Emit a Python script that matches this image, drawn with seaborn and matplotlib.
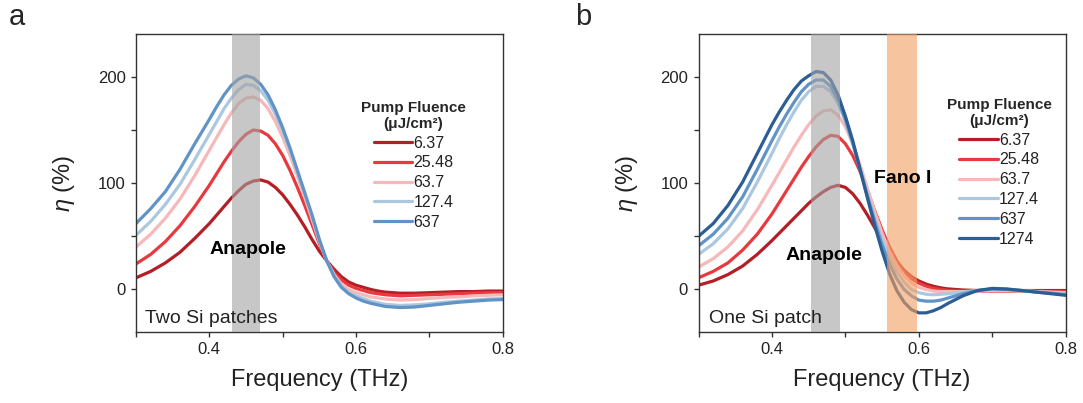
import seaborn as sns
import pandas as pd
import matplotlib
matplotlib.use('Agg')
import matplotlib.pyplot as plt
from matplotlib.ticker import MultipleLocator

sns.set_style('ticks')
plt.rcParams['font.family'] = ['Liberation Sans', 'DejaVu Sans']
plt.rcParams['mathtext.fontset'] = 'custom'
plt.rcParams['mathtext.it'] = 'Liberation Sans:italic'
plt.rcParams['mathtext.rm'] = 'Liberation Sans'

# frequency grid (THz)
freq = [0.30, 0.32, 0.34, 0.36, 0.38, 0.40, 0.41, 0.42, 0.43, 0.44, 0.45, 0.46,
        0.47, 0.48, 0.49, 0.50, 0.51, 0.52, 0.53, 0.54, 0.55, 0.56, 0.57, 0.58,
        0.59, 0.60, 0.61, 0.62, 0.63, 0.64, 0.66, 0.68, 0.70, 0.72, 0.74, 0.76,
        0.78, 0.80]

# panel a : two Si patches
fluence_a = ['6.37', '25.48', '63.7', '127.4', '637']
eta_a_637 = [11, 17, 25, 35, 48, 62, 70, 78, 86, 93, 99, 102,
             103, 101, 96, 89, 80, 70, 59, 47, 36, 27, 19, 12,
             7, 4, 2, 0, -1.5, -2.5, -3.5, -3.5, -3, -2.5, -2, -2,
             -1.5, -1.5]
eta_a_2548 = [24, 33, 45, 60, 78, 98, 109, 120, 130, 139, 146, 150,
              149, 145, 137, 126, 112, 96, 79, 61, 43, 27, 16, 9,
              4, 1, -1, -3, -4, -5, -6, -5.5, -5, -4.5, -4, -3.5,
              -3, -3]
eta_a_637b = [40, 52, 67, 85, 107, 131, 143, 155, 166, 175, 180, 181,
              178, 170, 158, 143, 126, 107, 87, 66, 45, 27, 14, 5,
              0, -3, -5, -7, -8, -9, -10, -9.5, -8.5, -7.5, -7, -6,
              -5.5, -5]
eta_a_1274 = [51, 64, 80, 99, 122, 146, 158, 170, 180, 188, 193, 192,
              187, 178, 165, 149, 131, 111, 90, 69, 46, 27, 13, 3,
              -3, -6, -8.5, -11, -12.5, -14, -15, -14.5, -13.5, -12, -11, -10,
              -9, -8.5]
eta_a_6370 = [62, 76, 92, 113, 137, 160, 172, 183, 192, 198, 201, 199,
              193, 183, 169, 152, 133, 112, 91, 70, 47, 27, 12, 2,
              -4, -8, -11, -13, -14.5, -16, -17, -16.5, -15, -13.5, -12, -11,
              -10, -9.5]
series_a = [eta_a_637, eta_a_2548, eta_a_637b, eta_a_1274, eta_a_6370]

# panel b : one Si patch
fluence_b = ['6.37', '25.48', '63.7', '127.4', '637', '1274']
eta_b_637 = [4, 8, 14, 22, 33, 46, 53, 60, 67, 74, 81, 87,
             92, 96, 98, 96, 90, 81, 70, 58, 46, 35, 26, 18,
             12, 8, 5, 3, 1.5, 0.5, -0.5, -1, -1, -1, -1, -1,
             -1, -1]
eta_b_2548 = [11, 17, 25, 37, 52, 71, 82, 93, 104, 115, 125, 134,
              141, 145, 144, 137, 126, 111, 93, 74, 56, 40, 27, 17,
              10, 6, 3, 1, 0, -1, -1.5, -1.5, -1.5, -1.5, -1.5, -1.5,
              -2, -2]
eta_b_637b = [21, 29, 40, 55, 75, 98, 110, 122, 134, 145, 155, 163,
              168, 169, 164, 153, 137, 117, 95, 73, 53, 36, 23, 13,
              6, 2, 0, -1.5, -2, -2, -2, -1.5, -1, -1, -1.5, -2,
              -2.5, -3]
eta_b_1274 = [33, 43, 57, 76, 101, 128, 142, 155, 167, 178, 186, 191,
              191, 186, 175, 158, 137, 114, 90, 67, 47, 30, 17, 7,
              0, -3, -4.5, -5, -4.5, -4, -2.5, -1, 0, 0, -1, -2,
              -3, -4]
eta_b_6370 = [41, 52, 67, 87, 113, 140, 153, 165, 176, 186, 193, 197,
              197, 191, 178, 160, 138, 113, 88, 64, 42, 24, 10, 0,
              -6, -10, -11, -11, -10, -8, -4, -1, 0.5, 0, -1, -2.5,
              -3.5, -5]
eta_b_12740 = [50, 62, 79, 101, 128, 155, 167, 178, 188, 196, 201, 205,
               204, 197, 183, 163, 140, 113, 86, 60, 36, 15, -1, -12,
               -19, -22, -22, -20, -17, -13, -6, -1, 1, 0.5, -1, -2.5,
               -4, -5.5]
series_b = [eta_b_637, eta_b_2548, eta_b_637b, eta_b_1274, eta_b_6370, eta_b_12740]

colors = ['#b41e25', '#e8393f', '#f6b8b9', '#acc8e0', '#6093c6', '#2d5d95']

anapole_a = (0.431, 0.469)
anapole_b = (0.453, 0.493)
fano_b = (0.557, 0.598)


def long_table(fluences, series):
    rows = []
    for fl, vals in zip(fluences, series):
        for f, v in zip(freq, vals):
            rows.append({'freq': f, 'eta': v, 'fluence': fl})
    return pd.DataFrame(rows)


def style_axes(ax):
    ax.set_xlim(0.3, 0.8)
    ax.set_ylim(-40, 240)
    ax.xaxis.set_major_locator(MultipleLocator(0.2))
    ax.xaxis.set_minor_locator(MultipleLocator(0.1))
    ax.yaxis.set_major_locator(MultipleLocator(100))
    ax.yaxis.set_minor_locator(MultipleLocator(50))
    ax.tick_params(which='both', direction='out', length=3.5, width=1,
                   color='#333333', top=False, right=False)
    ax.tick_params(axis='x', labelsize=12, pad=4, labelcolor='#222222')
    ax.tick_params(axis='y', labelsize=12, pad=4, labelcolor='#222222')
    for sp in ax.spines.values():
        sp.set_visible(True)
        sp.set_color('#333333')
        sp.set_linewidth(1.0)
    ax.set_xlabel('Frequency (THz)', fontsize=17, color='#222222')
    ax.set_ylabel(r'$\eta$ (%)', fontsize=17, color='#222222')
    ax.xaxis.set_label_coords(0.5, -0.125)
    ax.yaxis.set_label_coords(-0.16, 0.5)


def draw_panel(ax, fluences, series, legend_anchor):
    df = long_table(fluences, series)
    sns.lineplot(data=df, x='freq', y='eta', hue='fluence', hue_order=fluences,
                 palette=colors[:len(fluences)], linewidth=2.3, errorbar=None,
                 legend=False, ax=ax)
    for ln in ax.get_lines():
        ln.set_solid_joinstyle('round')
    leg = ax.legend(ax.get_lines(), fluences,
                    title='Pump Fluence\n(μJ/cm²)',
                    title_fontproperties={'weight': 'bold', 'size': 11},
                    fontsize=11.5, frameon=False, loc='upper center',
                    bbox_to_anchor=legend_anchor, handlelength=2.4,
                    handletextpad=0.1, labelspacing=0.3, borderpad=0.2)
    leg.get_title().set_multialignment('center')
    for t in leg.get_texts():
        t.set_color('#222222')
    style_axes(ax)


fig = plt.figure(figsize=(10.83, 4.03), dpi=100)
ax_a = fig.add_axes([0.1256, 0.1762, 0.3386, 0.7387])
ax_b = fig.add_axes([0.645, 0.1762, 0.339, 0.7387])

draw_panel(ax_a, fluence_a, series_a, (0.757, 0.815))
ax_a.axvspan(*anapole_a, color='#a3a3a3', alpha=0.6, lw=0, zorder=3)
ax_a.text(0.4524, 38, 'Anapole', fontsize=14, fontweight='bold', color='black',
          ha='center', va='center', zorder=5)
ax_a.text(0.312, -31.5, 'Two Si patches', fontsize=14, color='#222222',
          ha='left', va='baseline', zorder=5)

draw_panel(ax_b, fluence_b, series_b, (0.819, 0.825))
ax_b.axvspan(*anapole_b, color='#a3a3a3', alpha=0.6, lw=0, zorder=3)
ax_b.axvspan(*fano_b, color='#f39e61', alpha=0.6, lw=0, zorder=3)
ax_b.text(0.4707, 31.5, 'Anapole', fontsize=14, fontweight='bold', color='black',
          ha='center', va='center', zorder=5)
ax_b.text(0.578, 104, 'Fano I', fontsize=14, fontweight='bold', color='black',
          ha='center', va='center', zorder=5)
ax_b.text(0.314, -31.5, 'One Si patch', fontsize=14, color='#222222',
          ha='left', va='baseline', zorder=5)

fig.text(9 / 1083, 1 - 25 / 403, 'a', fontsize=21, va='baseline', ha='left')
fig.text(575 / 1083, 1 - 25 / 403, 'b', fontsize=21, va='baseline', ha='left')

fig.savefig('out.png', dpi=100)
